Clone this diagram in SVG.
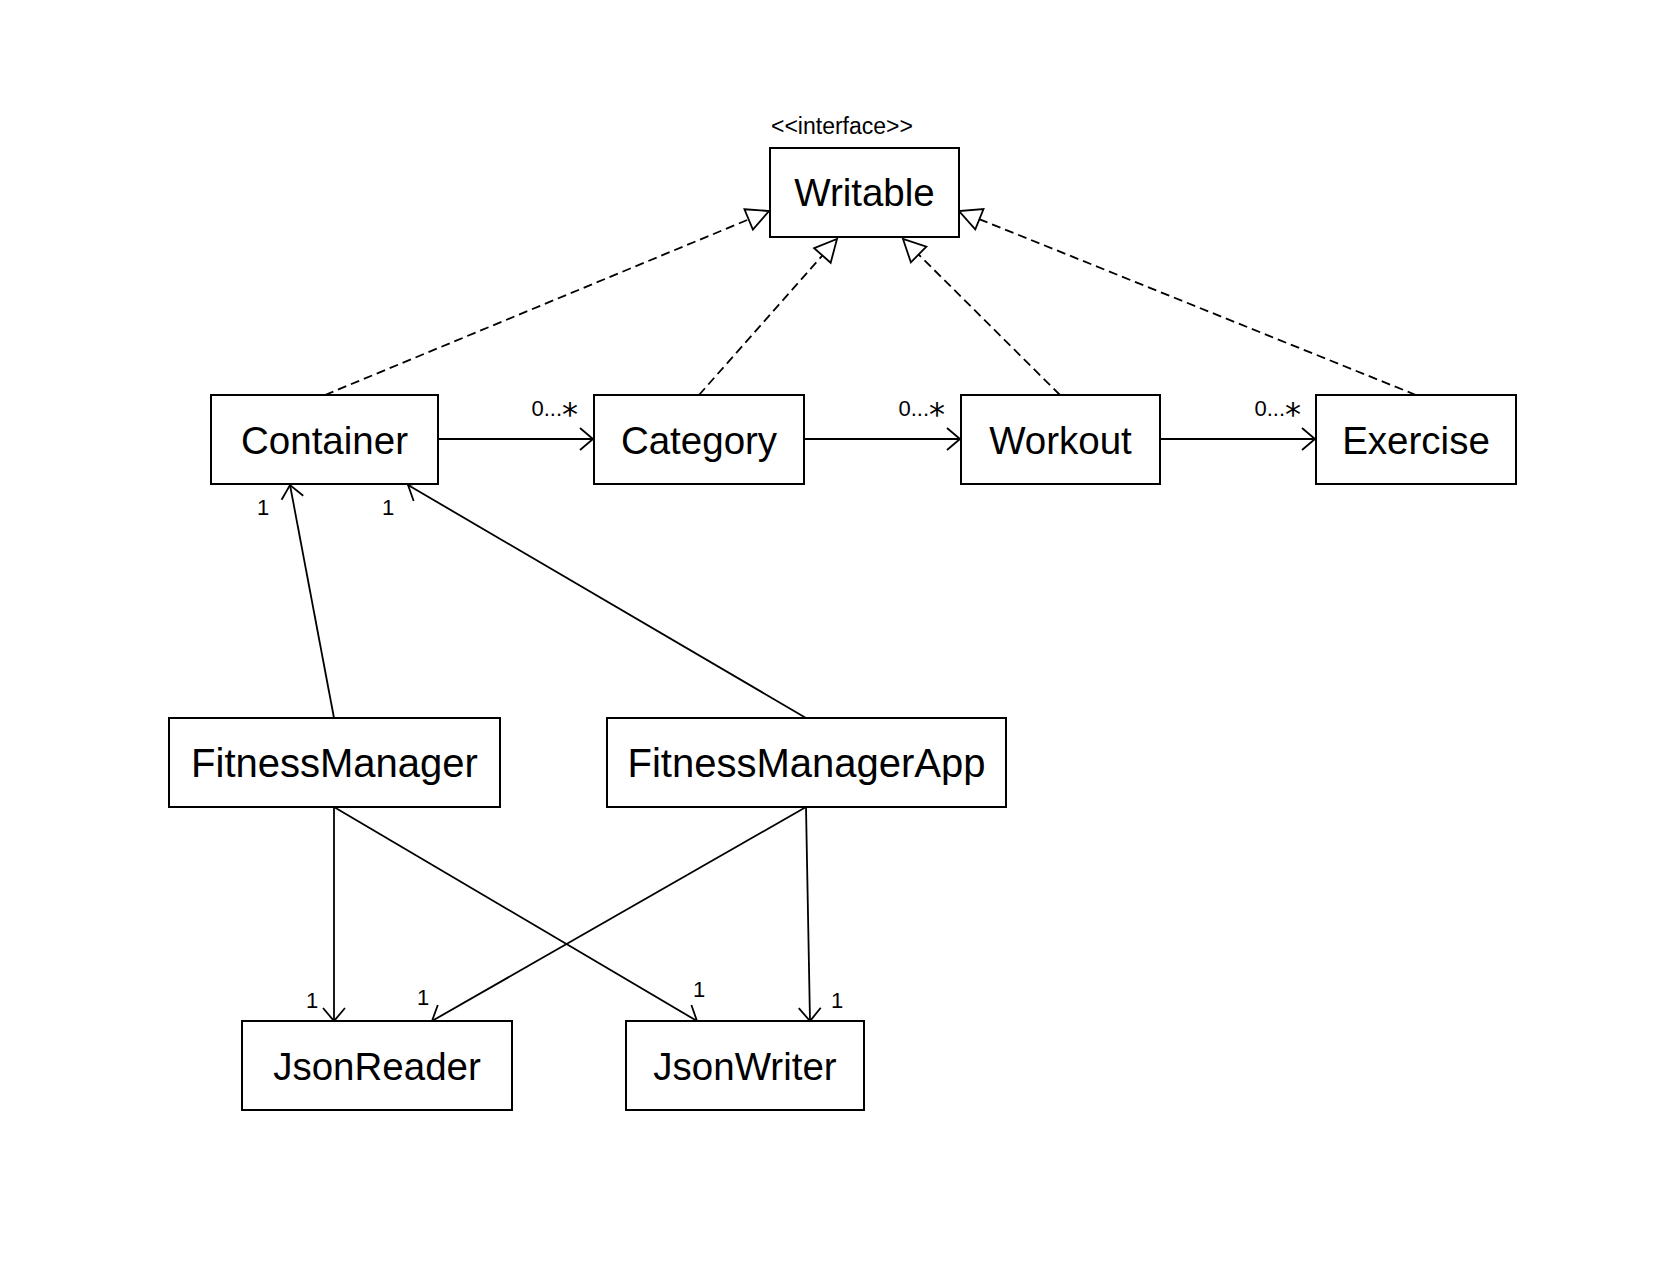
<svg xmlns="http://www.w3.org/2000/svg" width="1674" height="1282" viewBox="0 0 1674 1282">
  <style>
    .box { fill: #ffffff; stroke: #000000; stroke-width: 2; }
    .name { font-family: "Liberation Sans", Arial, sans-serif; font-size: 38.5px; fill: #000000; text-anchor: middle; }
    .big { font-size: 40px; }
    .stereo { font-family: "Liberation Sans", Arial, sans-serif; font-size: 23px; fill: #000000; }
    .mult { font-family: "Liberation Sans", Arial, sans-serif; font-size: 22px; fill: #000000; }
    .ast { font-family: "DejaVu Sans", sans-serif; font-size: 32px; }
    .assoc { fill: none; stroke: #000000; stroke-width: 1.8; marker-end: url(#open); }
    .real { fill: none; stroke: #000000; stroke-width: 1.8; stroke-dasharray: 9 5; marker-end: url(#hollow); }
  </style>
  <defs>
    <marker id="open" markerUnits="userSpaceOnUse" markerWidth="30" markerHeight="30" refX="20" refY="15" orient="auto" overflow="visible">
      <path d="M7,4 L20,15 L7,26" fill="none" stroke="#000000" stroke-width="1.8"/>
    </marker>
    <marker id="hollow" markerUnits="userSpaceOnUse" markerWidth="30" markerHeight="30" refX="24" refY="15" orient="auto" overflow="visible">
      <path d="M2,4 L24,15 L2,26 Z" fill="#ffffff" stroke="#000000" stroke-width="1.8" stroke-dasharray="none"/>
    </marker>
  </defs>
  <rect width="1674" height="1282" fill="#ffffff"/>

  <g id="connectors">
    <line class="real" x1="325" y1="395" x2="769" y2="211"/>
    <line class="real" x1="699" y1="395" x2="837" y2="239"/>
    <line class="real" x1="1060" y1="395" x2="903" y2="239"/>
    <line class="real" x1="1416" y1="395" x2="959" y2="211"/>

    <line class="assoc" x1="438" y1="439" x2="593" y2="439"/>
    <line class="assoc" x1="804" y1="439" x2="960" y2="439"/>
    <line class="assoc" x1="1160" y1="439" x2="1315" y2="439"/>

    <line class="assoc" x1="334" y1="718" x2="290" y2="485"/>
    <line class="assoc" x1="806" y1="718" x2="408" y2="485"/>

    <line class="assoc" x1="334" y1="807" x2="334" y2="1021"/>
    <line class="assoc" x1="334" y1="807" x2="697" y2="1021"/>
    <line class="assoc" x1="806" y1="807" x2="432" y2="1021"/>
    <line class="assoc" x1="806" y1="807" x2="810" y2="1021"/>

    <text class="mult" x="578" y="416" text-anchor="end">0...<tspan class="ast" dy="9">*</tspan></text>
    <text class="mult" x="945" y="416" text-anchor="end">0...<tspan class="ast" dy="9">*</tspan></text>
    <text class="mult" x="1301" y="416" text-anchor="end">0...<tspan class="ast" dy="9">*</tspan></text>

    <text class="mult" x="263" y="515" text-anchor="middle">1</text>
    <text class="mult" x="388" y="515" text-anchor="middle">1</text>
    <text class="mult" x="312" y="1008" text-anchor="middle">1</text>
    <text class="mult" x="423" y="1005" text-anchor="middle">1</text>
    <text class="mult" x="699" y="997" text-anchor="middle">1</text>
    <text class="mult" x="837" y="1008" text-anchor="middle">1</text>
  </g>

  <g id="writable">
    <text class="stereo" x="771" y="134">&lt;&lt;interface&gt;&gt;</text>
    <rect class="box" x="770" y="148" width="189" height="89"/>
    <text class="name" x="864.5" y="206">Writable</text>
  </g>
  <g id="container">
    <rect class="box" x="211" y="395" width="227" height="89"/>
    <text class="name" x="324.5" y="453.5">Container</text>
  </g>
  <g id="category">
    <rect class="box" x="594" y="395" width="210" height="89"/>
    <text class="name" x="699" y="453.5">Category</text>
  </g>
  <g id="workout">
    <rect class="box" x="961" y="395" width="199" height="89"/>
    <text class="name" x="1060.5" y="453.5">Workout</text>
  </g>
  <g id="exercise">
    <rect class="box" x="1316" y="395" width="200" height="89"/>
    <text class="name" x="1416" y="453.5">Exercise</text>
  </g>
  <g id="fitnessmanager">
    <rect class="box" x="169" y="718" width="331" height="89"/>
    <text class="name big" x="334.5" y="777">FitnessManager</text>
  </g>
  <g id="fitnessmanagerapp">
    <rect class="box" x="607" y="718" width="399" height="89"/>
    <text class="name big" x="806.5" y="777">FitnessManagerApp</text>
  </g>
  <g id="jsonreader">
    <rect class="box" x="242" y="1021" width="270" height="89"/>
    <text class="name" x="377" y="1079.5">JsonReader</text>
  </g>
  <g id="jsonwriter">
    <rect class="box" x="626" y="1021" width="238" height="89"/>
    <text class="name" x="745" y="1079.5">JsonWriter</text>
  </g>
</svg>
